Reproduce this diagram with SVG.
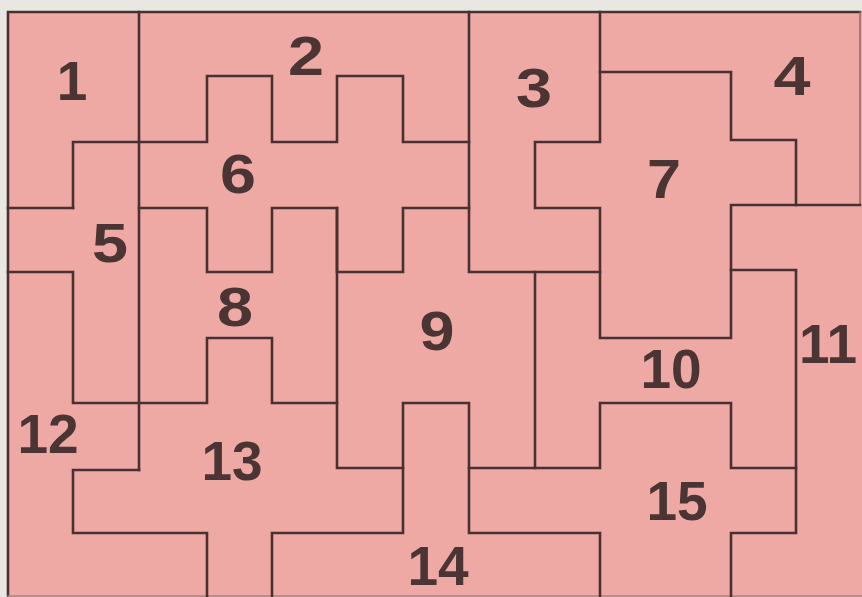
<svg xmlns="http://www.w3.org/2000/svg" width="862" height="597" viewBox="0 0 862 597">
<style>
.ln{fill:none;stroke:#4a3131;stroke-width:2.6;stroke-linejoin:miter;stroke-linecap:square}
.num{font-family:"Liberation Sans",Arial,sans-serif;font-weight:bold;font-size:55px;fill:#4a3434;text-anchor:middle}
</style>
<rect x="0" y="0" width="862" height="597" fill="#e9e7e2"/>
<rect x="8" y="12" width="854" height="585" fill="#eea9a4"/>
<g id="connectors" class="ln">
<path d="M8,597 V12 H860"/>
<path d="M860,12 V205" stroke-width="1.5" stroke="#8a6a6a"/>
<path d="M8,596 H862" stroke-width="1.5" stroke="#9a8a8a"/>
<path d="M139,12 V470"/>
<path d="M73,208 V142 H207 V76 H272 V142 H337 V76 H403 V142 H469"/>
<path d="M8,208 H73"/>
<path d="M8,272 H73 V403 H207 V338 H272 V403 H337"/>
<path d="M139,208 H207 V272 H272 V208 H337 V272 H403 V208 H469"/>
<path d="M469,12 V272 H600"/>
<path d="M337,208 V468 H403 V533 H272 V597"/>
<path d="M139,470 H73 V533 H207 V597"/>
<path d="M403,468 V403 H469 V533 H600 V597"/>
<path d="M469,468 H600 V403 H731 V468 H796"/>
<path d="M535,272 V468"/>
<path d="M600,12 V142 H535 V208 H600 V338 H731 V205 H860"/>
<path d="M600,72 H731 V140 H796 V205"/>
<path d="M731,270 H796 V533 H731 V597"/>
</g>
<g id="n1"><text class="num" x="72" y="100">1</text></g>
<g id="n2"><text class="num" x="306" y="75" textLength="36" lengthAdjust="spacingAndGlyphs">2</text></g>
<g id="n3"><text class="num" x="534" y="107" textLength="36" lengthAdjust="spacingAndGlyphs">3</text></g>
<g id="n4"><text class="num" x="792" y="95" textLength="37" lengthAdjust="spacingAndGlyphs">4</text></g>
<g id="n5"><text class="num" x="110" y="262" textLength="36" lengthAdjust="spacingAndGlyphs">5</text></g>
<g id="n6"><text class="num" x="238" y="193" textLength="36" lengthAdjust="spacingAndGlyphs">6</text></g>
<g id="n7"><text class="num" x="664" y="198" textLength="34" lengthAdjust="spacingAndGlyphs">7</text></g>
<g id="n8"><text class="num" x="235" y="326" textLength="36" lengthAdjust="spacingAndGlyphs">8</text></g>
<g id="n9"><text class="num" x="437" y="350" textLength="35" lengthAdjust="spacingAndGlyphs">9</text></g>
<g id="n10"><text class="num" x="671" y="388">10</text></g>
<g id="n11"><text class="num" x="828" y="363">11</text></g>
<g id="n12"><text class="num" x="48" y="453">12</text></g>
<g id="n13"><text class="num" x="232" y="480">13</text></g>
<g id="n14"><text class="num" x="438" y="585">14</text></g>
<g id="n15"><text class="num" x="677" y="520">15</text></g>
</svg>
